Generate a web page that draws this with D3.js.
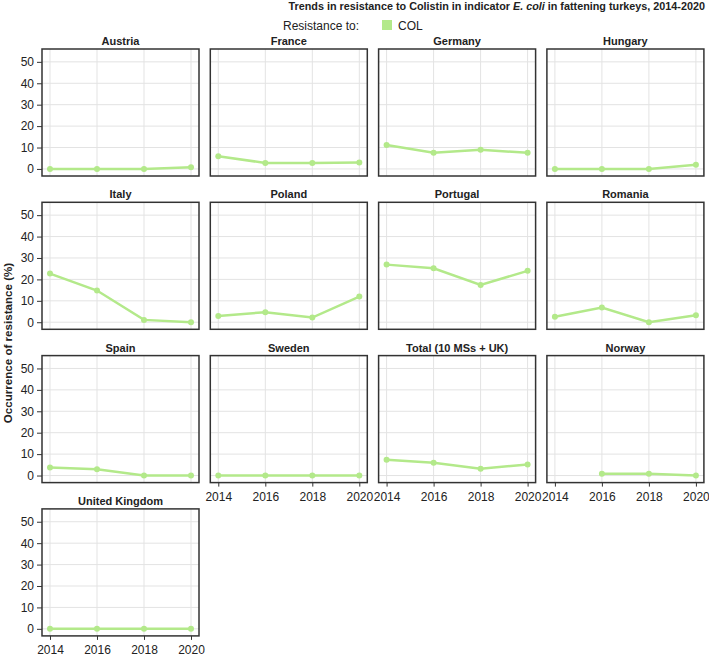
<!DOCTYPE html>
<html><head><meta charset="utf-8">
<script src="https://cdn.jsdelivr.net/npm/d3@7"></script>
<style>body{margin:0;background:#fff;} svg{display:block;font-family:"Liberation Sans",Arial,sans-serif;}</style>
</head><body><div id="chart"></div>
<script>
const years = [2014, 2016, 2018, 2020];
const countries = ["Austria","France","Germany","Hungary","Italy","Poland","Portugal","Romania","Spain","Sweden","Total (10 MSs + UK)","Norway","United Kingdom"];
const colValues = [
  [0, 0, 0, 0.8],
  [5.9, 2.8, 2.8, 3.0],
  [11.2, 7.6, 9.0, 7.5],
  [0, 0, 0, 1.9],
  [22.7, 14.8, 1.1, 0],
  [2.9, 4.7, 2.2, 12.0],
  [26.9, 25.2, 17.4, 24.0],
  [2.6, 6.9, 0, 3.3],
  [3.7, 2.9, 0, 0],
  [0, 0, 0, 0],
  [7.4, 6.0, 3.2, 5.2],
  [null, 0.8, 0.8, 0],
  [0, 0, 0, 0]
];
const yTicks = [0, 10, 20, 30, 40, 50];
const seriesName = "COL";
const titleText = ["Trends in resistance to Colistin in indicator ", "E. coli", " in fattening turkeys, 2014-2020"];

const W = 709, H = 656;
const svg = d3.select("#chart").append("svg").attr("width", W).attr("height", H);
const green = "#b3e98a";

// title
const t = svg.append("text").attr("x", 705).attr("y", 10).attr("text-anchor", "end")
  .attr("font-size", 10.8).attr("font-weight", "bold").attr("fill", "#222");
t.append("tspan").text(titleText[0]);
t.append("tspan").attr("font-style", "italic").text(titleText[1]);
t.append("tspan").text(titleText[2]);

// legend
svg.append("text").attr("x", 283).attr("y", 30).attr("font-size", 12).attr("fill", "#222").text("Resistance to:");
svg.append("rect").attr("x", 382).attr("y", 20).attr("width", 10).attr("height", 10).attr("fill", green);
svg.append("text").attr("x", 398).attr("y", 30).attr("font-size", 12).attr("fill", "#222").text(seriesName);

// y label
svg.append("text").attr("transform", "translate(12,343) rotate(-90)").attr("text-anchor", "middle")
  .attr("font-size", 11.6).attr("font-weight", "bold").attr("fill", "#222").text("Occurrence of resistance (%)");

const pw = 157, ph = 127, left0 = 42, top0 = 49, pitchX = 168.3, pitchY = 153.3;
const x = d3.scaleLinear().domain([2013.66, 2020.34]).range([0, pw]);
const y = d3.scaleLinear().domain([-3.3, 56]).range([ph, 0]);

const nCols = 4;
countries.forEach((c, i) => {
  const col = i % nCols, row = Math.floor(i / nCols);
  const g = svg.append("g").attr("transform", `translate(${left0 + col * pitchX},${top0 + row * pitchY})`);
  // grid
  g.selectAll(".hg").data(yTicks).join("line")
    .attr("x1", 0).attr("x2", pw).attr("y1", d => y(d)).attr("y2", d => y(d))
    .attr("stroke", "#e3e3e3").attr("stroke-width", 1);
  g.selectAll(".vg").data(years).join("line")
    .attr("y1", 0).attr("y2", ph).attr("x1", d => x(d)).attr("x2", d => x(d))
    .attr("stroke", "#e3e3e3").attr("stroke-width", 1);
  // title
  g.append("text").attr("x", pw / 2).attr("y", -4).attr("text-anchor", "middle")
    .attr("font-size", 11).attr("font-weight", "bold").attr("fill", "#222").text(c);
  // data
  const pts = years.map((yr, k) => ({yr, v: colValues[i][k]})).filter(d => d.v !== null);
  const line = d3.line().x(d => x(d.yr)).y(d => y(d.v));
  g.append("path").datum(pts).attr("d", line).attr("fill", "none").attr("stroke", green).attr("stroke-width", 2.5);
  g.selectAll(".pt").data(pts).join("circle").attr("cx", d => x(d.yr)).attr("cy", d => y(d.v)).attr("r", 3).attr("fill", green);
  // border
  g.append("rect").attr("x", 0).attr("y", 0).attr("width", pw).attr("height", ph)
    .attr("fill", "none").attr("stroke", "#333").attr("stroke-width", 1.5);
  // y axis
  if (col === 0) {
    const ya = g.append("g").call(d3.axisLeft(y).tickValues(yTicks).tickSize(5).tickPadding(3));
    ya.select(".domain").remove();
    ya.selectAll("line").attr("stroke", "#333");
    ya.selectAll("text").attr("font-size", 12).attr("fill", "#222").attr("font-family", "Liberation Sans, Arial, sans-serif");
  }
  // x axis: on the bottom panel of each column
  const isBottom = (i + nCols >= countries.length);
  if (isBottom) {
    const xa = g.append("g").attr("transform", `translate(0,${ph})`)
      .call(d3.axisBottom(x).tickValues(years).tickFormat(d3.format("d")).tickSize(4).tickPadding(6));
    xa.select(".domain").remove();
    xa.selectAll("line").attr("stroke", "#333");
    xa.selectAll("text").attr("font-size", 12).attr("fill", "#222").attr("font-family", "Liberation Sans, Arial, sans-serif");
  }
});
</script>
</body></html>
